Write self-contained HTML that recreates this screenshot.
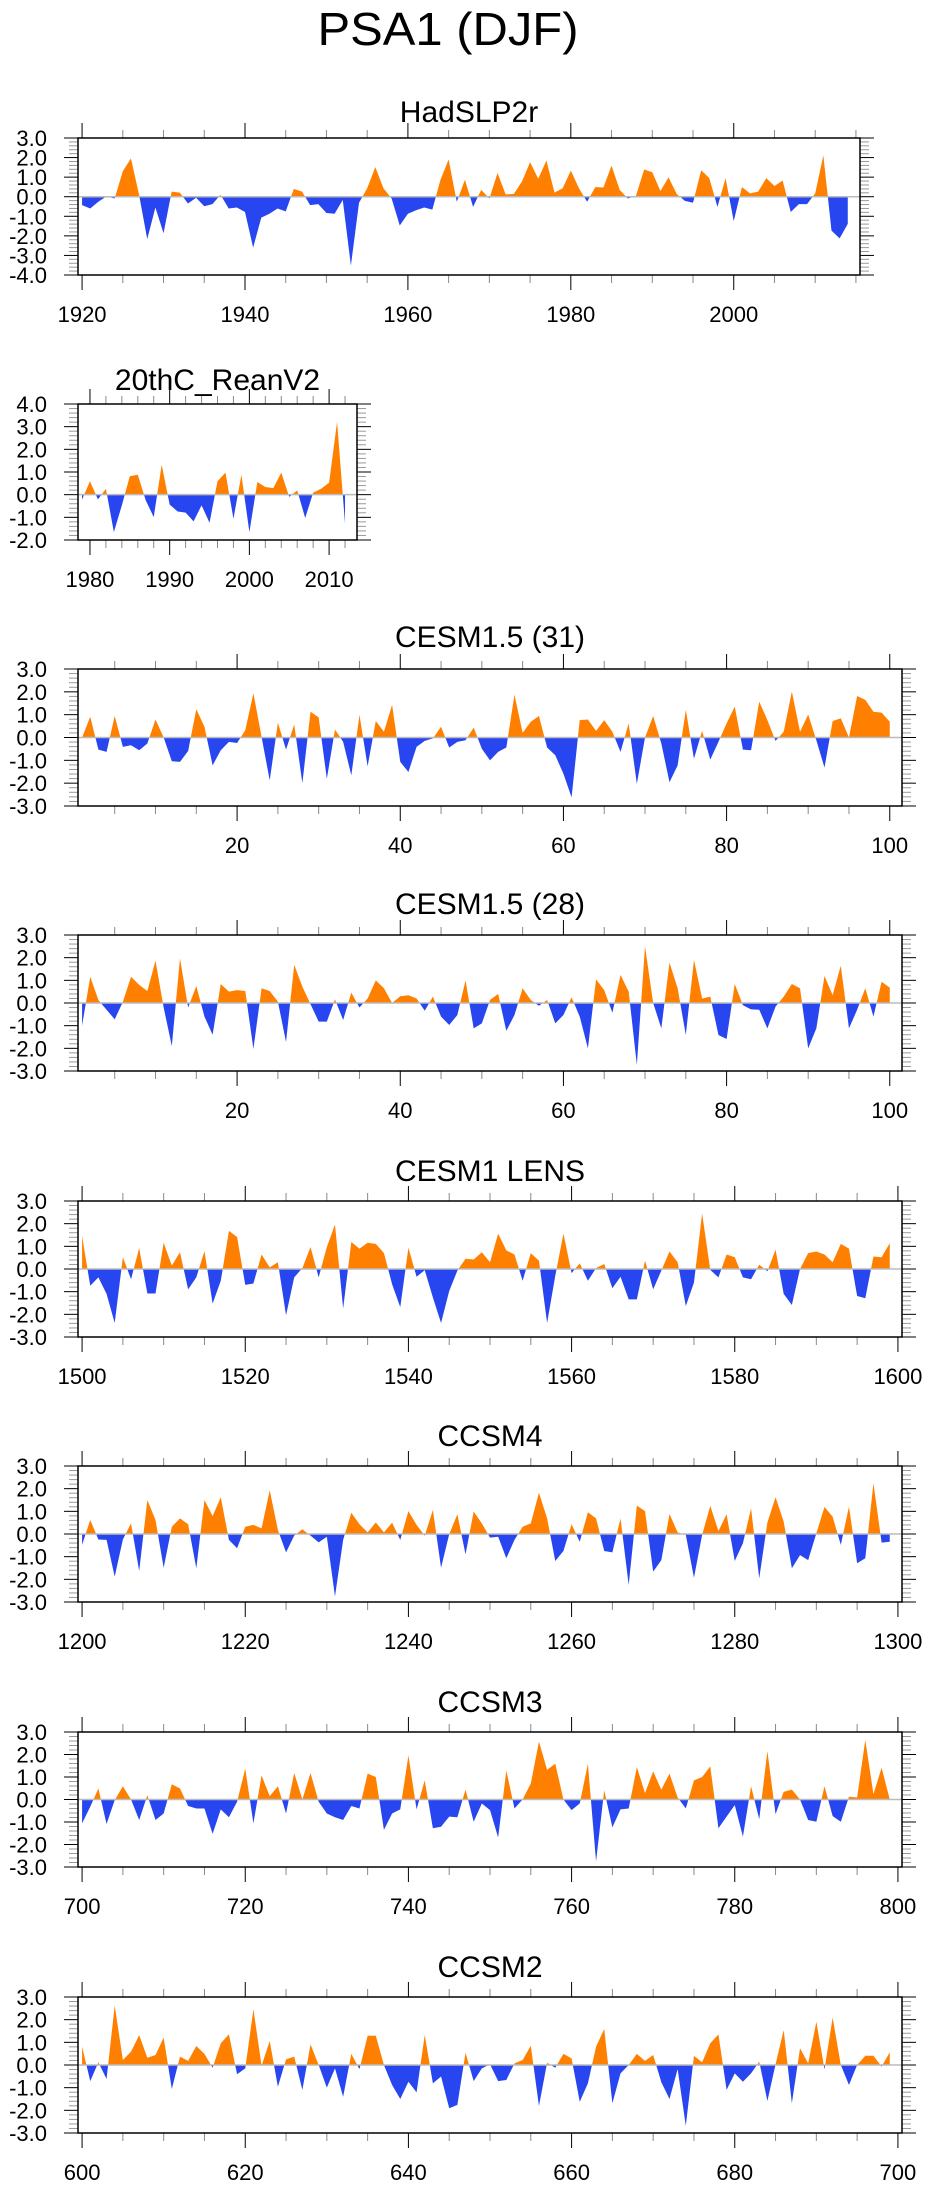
<!DOCTYPE html>
<html><head><meta charset="utf-8"><style>
html,body{margin:0;padding:0;background:#fff;}
svg{display:block;font-family:"Liberation Sans",Arial,sans-serif;}
</style></head><body>
<svg id="fig" width="925" height="2191" viewBox="0 0 925 2191" xmlns="http://www.w3.org/2000/svg">
<text x="448" y="45" font-size="46" text-anchor="middle" textLength="261" lengthAdjust="spacingAndGlyphs">PSA1 (DJF)</text>
</svg>
<script>
const hadStart = 1920;
const hadValues = [-0.43,-0.6,-0.26,0.02,-0.09,1.3,1.96,0.09,-2.17,-0.55,-1.87,0.26,0.21,-0.35,-0.05,-0.49,-0.38,0.1,-0.6,-0.55,-0.78,-2.6,-1.07,-0.87,-0.6,-0.75,0.4,0.26,-0.43,-0.38,-0.83,-0.87,-0.17,-3.52,-0.31,0.43,1.51,0.43,-0.09,-1.47,-0.87,-0.69,-0.55,-0.66,0.87,1.9,-0.26,0.87,-0.52,0.35,-0.09,1.21,0.12,0.14,0.78,1.77,0.92,1.85,0.21,0.43,1.33,0.43,-0.26,0.49,0.47,1.59,0.35,-0.09,0.05,1.39,1.25,0.29,0.99,0.14,-0.21,-0.31,1.35,0.95,-0.52,0.95,-1.25,0.49,0.17,0.26,0.95,0.55,0.83,-0.78,-0.38,-0.38,0.17,2.11,-1.73,-2.13,-1.39];
const hadXTicks = [1920,1940,1960,1980,2000];
const hadYTicks = [3,2,1,0,-1,-2,-3,-4];

const reanStart = 1979;
const reanValues = [-0.22,0.59,-0.21,0.26,-1.65,-0.47,0.81,0.88,-0.25,-0.99,1.32,-0.44,-0.74,-0.79,-1.18,-0.47,-1.24,0.59,0.97,-1.06,0.88,-1.65,0.56,0.34,0.29,0.97,-0.1,0.19,-1.03,0.09,0.26,0.53,3.21,-1.28];
const reanXTicks = [1980,1990,2000,2010];
const reanYTicks = [4,3,2,1,0,-1,-2];

const c31Start = 1;
const c31Values = [0,0.91,-0.53,-0.63,0.94,-0.41,-0.34,-0.56,-0.26,0.79,0,-1.04,-1.07,-0.59,1.24,0.47,-1.22,-0.56,-0.19,-0.24,0.32,1.94,0.03,-1.88,0.65,-0.53,0.57,-2.0,1.13,0.88,-1.81,0.35,-0.19,-1.66,0.99,-1.26,0.72,0.25,1.43,-1.07,-1.51,-0.41,-0.15,-0.04,0.47,-0.44,-0.19,-0.12,0.43,-0.49,-1.0,-0.63,-0.44,1.87,0.21,0.69,0.94,-0.44,-0.78,-1.59,-2.62,0.76,0.79,0.29,0.76,0.25,-0.63,0.62,-2.03,0,0.94,-0.26,-1.96,-1.22,1.21,-0.93,0.29,-0.97,-0.19,0.62,1.35,-0.53,-0.56,1.57,0.76,-0.15,0.25,2.01,0.25,1.01,-0.12,-1.32,0.72,0.84,0,1.82,1.65,1.13,1.09,0.69];
const c28Start = 1;
const c28Values = [-1.0,1.16,0.13,-0.3,-0.72,0.05,1.16,0.8,0.53,1.87,-0.2,-1.9,1.97,-0.2,0.75,-0.6,-1.4,0.84,0.5,0.57,0.53,-2.03,0.65,0.53,0.06,-1.72,1.68,0.72,-0.05,-0.82,-0.82,0.16,-0.75,0.46,-0.2,0.2,1.0,0.65,0,0.3,0.34,0.2,-0.34,0.28,-0.6,-0.97,-0.53,1.0,-1.12,-0.9,0.13,0.4,-1.23,-0.53,0.65,0.13,-0.12,0.13,-0.9,-0.53,0.25,-0.6,-2.0,1.04,0.57,-0.43,1.24,0.5,-2.73,2.5,0,-1.12,1.78,0.65,-1.41,1.9,0.2,0.28,-1.41,-1.59,0.84,-0.1,-0.28,-0.3,-1.12,-0.16,0.28,0.84,0.65,-2.0,-1.12,1.19,0.35,1.65,-1.12,-0.3,0.65,-0.6,0.94,0.68];
const cesmXTicks = [20,40,60,80,100];

const lensStart = 1500;
const lensValues = [1.45,-0.74,-0.37,-1.1,-2.38,0.52,-0.45,0.92,-1.08,-1.08,1.16,0.15,0.74,-0.9,-0.37,0.79,-1.53,-0.52,1.68,1.41,-0.7,-0.64,0.64,0.07,0.3,-2.04,-0.37,0.04,0.97,-0.37,0.97,1.96,-1.74,1.19,0.9,1.16,1.11,0.7,-0.67,-1.68,0.94,-0.34,-0.05,-1.26,-2.38,-0.97,-0.07,0.45,0.42,0.74,0.3,1.56,0.82,0.64,-0.52,0.7,0.37,-2.38,-0.3,1.56,-0.18,0.25,-0.52,0.04,0.22,-0.85,-0.34,-1.34,-1.34,0.37,-0.9,-0.07,0.77,0.3,-1.63,-0.6,2.45,-0.04,-0.37,0.64,0.52,-0.37,-0.45,0.19,-0.1,0.85,-1.1,-1.59,0,0.7,0.77,0.64,0.3,1.11,0.9,-1.19,-1.29,0.55,0.52,1.14];
const lensXTicks = [1500,1520,1540,1560,1580,1600];

const ccsm4Start = 1200;
const ccsm4Values = [-0.48,0.62,-0.24,-0.26,-1.88,-0.24,0.47,-1.63,1.5,0.62,-1.49,0.32,0.69,0.43,-1.51,1.5,0.79,1.62,-0.26,-0.63,0.32,0.4,0.25,1.93,0.18,-0.81,-0.07,0.21,-0.07,-0.37,-0.12,-2.76,-0.26,0.94,0.43,0.07,0.51,0.07,0.5,-0.26,1.01,0.4,-0.07,1.06,-1.49,-0.01,0.87,-0.9,0.99,0.47,-0.16,-0.12,-1.07,-0.26,0.32,0.47,1.82,0.69,-1.19,-0.75,0.43,-0.34,0.96,0.69,-0.75,-0.81,0.69,-2.25,1.25,1.01,-1.66,-1.15,0.88,0.07,-0.04,-1.93,-0.04,1.24,0.13,0.87,-1.19,-0.41,1.13,-1.96,0.51,1.62,0.54,-1.51,-0.93,-1.15,0.03,1.19,0.76,-0.48,1.21,-1.29,-1.07,2.24,-0.38,-0.34];
const ccsm4XTicks = [1200,1220,1240,1260,1280,1300];

const ccsm3Start = 700;
const ccsm3Values = [-1.06,-0.32,0.49,-1.09,-0.03,0.59,0,-0.91,0.19,-0.91,-0.62,0.68,0.49,-0.29,-0.4,-0.4,-1.53,-0.44,-0.79,-0.1,1.37,-1.06,1.07,0.15,0.59,-0.62,1.18,0,1.18,-0.1,-0.62,-0.79,-0.91,-0.29,-0.4,1.15,1.0,-1.35,-0.62,-0.44,1.96,-0.44,0.85,-1.28,-1.21,-0.76,-0.79,0.44,-0.99,-0.18,-0.47,-1.69,1.29,-0.4,0,0.71,2.57,1.32,1.59,0,-0.47,-0.18,1.59,-2.75,0.41,-1.24,-0.44,-0.4,1.44,0.29,1.25,0.44,1.15,0.09,-0.4,0.85,1.0,1.47,-1.28,-0.76,-0.25,-1.65,0.59,-0.88,2.15,-0.65,0.34,0.44,0,-0.91,-0.99,0.59,-0.74,-0.99,0.12,0.09,2.65,0.24,1.41,0];
const ccsm3XTicks = [700,720,740,760,780,800];

const ccsm2Start = 600;
const ccsm2Values = [0.81,-0.71,0.12,-0.62,2.62,0.22,0.59,1.32,0.32,0.44,1.21,-1.06,0.37,0.18,0.84,0.49,-0.12,0.96,1.35,-0.41,-0.15,2.46,-0.03,1.06,-0.96,0.25,0.37,-1.1,0.91,0,-1.0,-0.15,-1.4,0.49,-0.18,1.29,1.29,0,-0.88,-1.5,-0.74,-1.21,1.32,-0.81,-0.51,-1.91,-1.76,0.54,-0.71,-0.15,0.03,-0.71,-0.66,0.07,0.22,0.85,-1.81,0.1,-0.12,0.49,0.29,-1.62,-0.81,0.81,1.59,-1.69,-0.37,0,0.49,0.18,0.44,-0.76,-1.5,-0.18,-2.68,0.4,0.12,0.96,1.35,-1.1,-0.37,-0.74,-0.37,0.15,-1.59,0.03,1.54,-1.69,0.74,0.07,1.91,-0.19,2.09,0,-0.88,0,0.41,0.41,-0.07,0.56];
const ccsm2XTicks = [600,620,640,660,680,700];

const stdYTicks = [3,2,1,0,-1,-2,-3];
const panelTitles = ["HadSLP2r","20thC_ReanV2","CESM1.5 (31)","CESM1.5 (28)","CESM1 LENS","CCSM4","CCSM3","CCSM2"];

const NS = "http://www.w3.org/2000/svg";
const svg = document.getElementById('fig');
function mk(tag, attrs, parent){
  const e = document.createElementNS(NS, tag);
  for (const k in attrs) e.setAttribute(k, attrs[k]);
  (parent||svg).appendChild(e);
  return e;
}

const layout = [
  {slug:'hadslp2r', start:hadStart, vals:hadValues, xt:hadXTicks, yt:hadYTicks, x0:78, x1:860, y0:138, y1:275, titleY:122, minor:5},
  {slug:'20thc-reanv2', start:reanStart, vals:reanValues, xt:reanXTicks, yt:reanYTicks, x0:78, x1:357, y0:404, y1:540, titleY:390, minor:2},
  {slug:'cesm15-31', start:c31Start, vals:c31Values, xt:cesmXTicks, yt:stdYTicks, x0:78, x1:902, y0:669, y1:806, titleY:647, minor:5},
  {slug:'cesm15-28', start:c28Start, vals:c28Values, xt:cesmXTicks, yt:stdYTicks, x0:78, x1:902, y0:935, y1:1071, titleY:914, minor:5},
  {slug:'cesm1-lens', start:lensStart, vals:lensValues, xt:lensXTicks, yt:stdYTicks, x0:78, x1:902, y0:1201, y1:1337, titleY:1181, minor:5},
  {slug:'ccsm4', start:ccsm4Start, vals:ccsm4Values, xt:ccsm4XTicks, yt:stdYTicks, x0:78, x1:902, y0:1466, y1:1602, titleY:1446, minor:5},
  {slug:'ccsm3', start:ccsm3Start, vals:ccsm3Values, xt:ccsm3XTicks, yt:stdYTicks, x0:78, x1:902, y0:1732, y1:1867, titleY:1712, minor:5},
  {slug:'ccsm2', start:ccsm2Start, vals:ccsm2Values, xt:ccsm2XTicks, yt:stdYTicks, x0:78, x1:902, y0:1997, y1:2133, titleY:1977, minor:5}
];

layout.forEach((p, i) => {
  const n = p.vals.length;
  const xmin = p.start - 0.5, xmax = p.start + n - 1 + 1.5;
  const ymax = p.yt[0], ymin = p.yt[p.yt.length-1];
  const sx = v => p.x0 + (v - xmin) / (xmax - xmin) * (p.x1 - p.x0);
  const sy = v => p.y0 + (ymax - v) / (ymax - ymin) * (p.y1 - p.y0);
  const g = mk('g', {});
  
  

  const t = mk('text', {x:(p.x0+p.x1)/2, y:p.titleY, 'font-size':30, 'text-anchor':'middle'}, g);
  
  
  t.textContent = panelTitles[i];

  const y0 = sy(0);
  let d = 'M' + sx(p.start) + ',' + y0;
  p.vals.forEach((v, k) => { d += ' L' + sx(p.start + k).toFixed(2) + ',' + sy(v).toFixed(2); });
  d += ' L' + sx(p.start + n - 1) + ',' + y0 + ' Z';
  const cid = 'clip-' + p.slug;
  const defs = mk('defs', {}, g);
  const cpA = mk('clipPath', {id: cid + '-a'}, defs);
  mk('rect', {x:p.x0, y:p.y0, width:p.x1-p.x0, height:y0-p.y0}, cpA);
  const cpB = mk('clipPath', {id: cid + '-b'}, defs);
  mk('rect', {x:p.x0, y:y0, width:p.x1-p.x0, height:p.y1-y0}, cpB);
  const pos = mk('path', {d:d, fill:'#ff8000', 'clip-path':'url(#'+cid+'-a)'}, g);
  
  
  const neg = mk('path', {d:d, fill:'#2846f0', 'clip-path':'url(#'+cid+'-b)'}, g);
  
  
  const zl = mk('line', {x1:p.x0, x2:p.x1, y1:y0, y2:y0, stroke:'#bbbbbb', 'stroke-width':1.5}, g);
  
  

  // x ticks
  const tickStart = Math.ceil(xmin / p.minor) * p.minor;
  for (let v = tickStart; v <= xmax; v += p.minor) {
    const x = sx(v);
    const major = p.xt.indexOf(v) >= 0;
    const L = major ? 15 : 8;
    const col = major ? '#000' : '#888';
    mk('line', {x1:x, x2:x, y1:p.y1, y2:p.y1+L, stroke:col, 'stroke-width':1}, g);
    mk('line', {x1:x, x2:x, y1:p.y0, y2:p.y0-L, stroke:col, 'stroke-width':1}, g);
  }
  p.xt.forEach(v => {
    const tx = mk('text', {x:sx(v), y:p.y1+47, 'font-size':22, 'text-anchor':'middle'}, g);
    
    
    tx.textContent = String(v);
  });
  // y ticks
  for (let k = 0; k <= (ymax - ymin) * 5; k++) {
    const v = ymax - k * 0.2;
    const y = sy(v);
    const major = k % 5 === 0;
    const L = major ? 14 : 9;
    const col = major ? '#000' : '#999';
    mk('line', {x1:p.x0, x2:p.x0-L, y1:y, y2:y, stroke:col, 'stroke-width':1}, g);
    mk('line', {x1:p.x1, x2:p.x1+L, y1:y, y2:y, stroke:col, 'stroke-width':1}, g);
  }
  p.yt.forEach(v => {
    const ty = mk('text', {x:p.x0-31, y:sy(v)+8, 'font-size':22, 'text-anchor':'end'}, g);
    
    
    ty.textContent = v.toFixed(1);
  });
  const fr = mk('rect', {x:p.x0, y:p.y0, width:p.x1-p.x0, height:p.y1-p.y0, fill:'none', stroke:'#000', 'stroke-width':1.5}, g);
  
  
});
</script>
</body></html>
